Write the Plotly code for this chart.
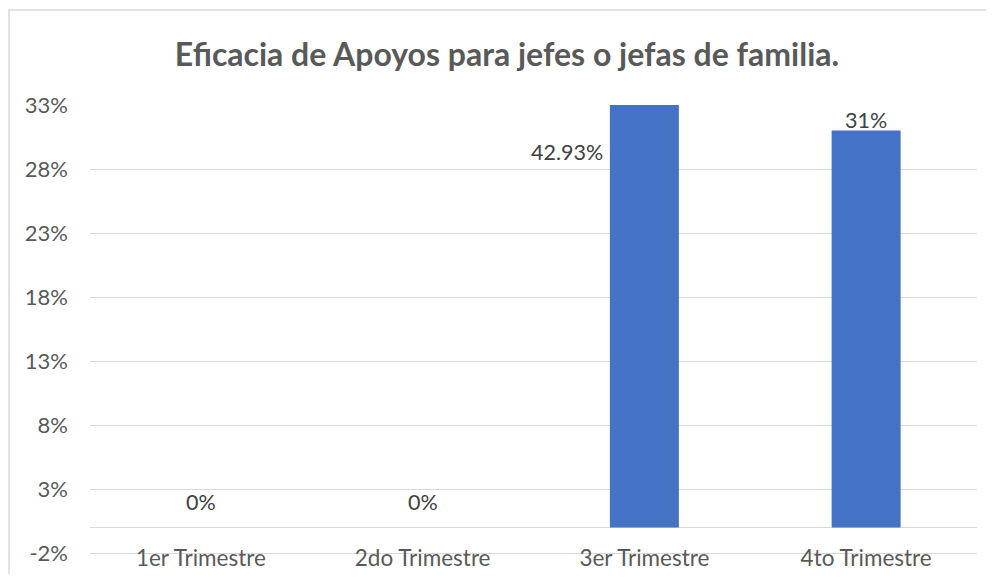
import plotly.graph_objects as go

categories = ["1er Trimestre", "2do Trimestre", "3er Trimestre", "4to Trimestre"]
values = [0, 0, 42.93, 31]
labels = ["0%", "0%", "42.93%", "31%"]
tick_vals = [-2, 3, 8, 13, 18, 23, 28, 33]
tick_text = ["-2%", "3%", "8%", "13%", "18%", "23%", "28%", "33%"]
title = "Eficacia de Apoyos para jefes o jefas de familia."

ymin, ymax = tick_vals[0], tick_vals[-1]
FONT = "Lato, Calibri, Carlito, sans-serif"
TXT = "#595959"
LBL = "#404040"
GRID = "#D9D9D9"

fig = go.Figure()
fig.add_trace(go.Bar(x=categories, y=values, marker=dict(color="#4472C4", line=dict(width=0)),
                     hoverinfo="skip"))

# page body has an 8px margin on every side, so the figure is shrunk to fit the window
W, H = 978, 566
ml, mr, mt, mb = 82, 9, 97, 21
pw, ph = W - ml - mr, H - mt - mb
bargap = 0.689
half = (1 - bargap) / 2

annotations = []
for i, (v, t) in enumerate(zip(values, labels)):
    if v > ymax:
        annotations.append(dict(x=i - half, y=ymax, xref="x", yref="y", text=t, showarrow=False,
                                xanchor="right", yanchor="top", xshift=-5, yshift=-32,
                                font=dict(family=FONT, size=21.5, color=LBL)))
    else:
        annotations.append(dict(x=i, y=v, xref="x", yref="y", text=t, showarrow=False,
                                xanchor="center", yanchor="bottom", yshift=10 if v == 0 else -4,
                                font=dict(family=FONT, size=21.5, color=LBL)))

fig.update_layout(
    width=W, height=H,
    margin=dict(l=ml, r=mr, t=mt, b=mb, autoexpand=False),
    paper_bgcolor="white", plot_bgcolor="white",
    bargap=bargap,
    showlegend=False,
    title=dict(text="<b>" + title + "</b>", x=499 / W, xref="container", xanchor="center",
               y=1 - 47 / H, yanchor="middle",
               font=dict(family=FONT, size=32, color=TXT)),
    xaxis=dict(showgrid=False, showline=True, linecolor=GRID, linewidth=1.3,
               zeroline=False, ticks="", automargin=False,
               tickfont=dict(family=FONT, size=22.5, color=TXT), ticklabelstandoff=-15),
    yaxis=dict(range=[ymin, ymax], tickvals=tick_vals, ticktext=tick_text, automargin=False,
               showgrid=True, gridcolor=GRID, gridwidth=1.3,
               zeroline=True, zerolinecolor=GRID, zerolinewidth=1.3,
               showline=False, ticks="", ticklabelstandoff=21,
               tickfont=dict(family=FONT, size=22, color=TXT)),
    annotations=annotations,
    shapes=[dict(type="rect", xref="paper", yref="paper",
                 x0=(1 - ml) / pw, x1=(W + 30 - ml) / pw,
                 y0=(H - mb - (H + 30)) / ph, y1=(H - mb - 2) / ph,
                 line=dict(color=GRID, width=1.5), layer="below")],
)

fig.write_html("out.html")
